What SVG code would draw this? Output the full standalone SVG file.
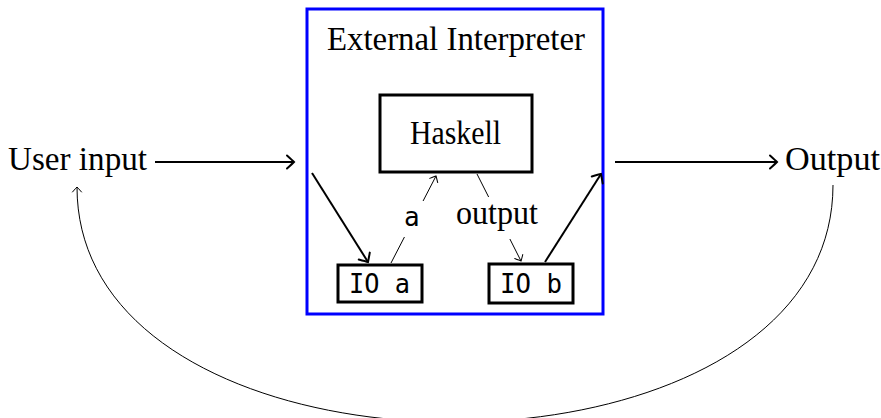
<svg xmlns="http://www.w3.org/2000/svg" width="881" height="418" viewBox="0 0 881 418">
  <style>
    .serif { font-family: "Liberation Serif", "DejaVu Serif", serif; fill: #000; }
    .big { font-size: 33px; }
    .mono { font-family: "DejaVu Sans Mono", "Liberation Mono", monospace; font-size: 26px; fill: #000; }
    .box { fill: #fff; stroke: #000; stroke-width: 3; }
    .frame { fill: none; stroke: #0000ff; stroke-width: 3; }
    .thick { fill: none; stroke: #000; stroke-width: 2; marker-end: url(#head); }
    .thin { fill: none; stroke: #000; stroke-width: 1; marker-end: url(#headthin); }
    .gap { fill: #fff; stroke: none; }
  </style>
  <defs>
    <marker id="head" markerUnits="userSpaceOnUse" orient="auto" refX="0" refY="0" markerWidth="20" markerHeight="20" overflow="visible">
      <path d="M-7,-6.5 Q-1.5,-1.5 0,0 Q-1.5,1.5 -7,6.5" fill="none" stroke="#000" stroke-width="2" stroke-linecap="round"/>
    </marker>
    <marker id="headthin" markerUnits="userSpaceOnUse" orient="auto" refX="0" refY="0" markerWidth="14" markerHeight="14" overflow="visible">
      <path d="M-5,-4.5 Q-1,-1 0,0 Q-1,1 -5,4.5" fill="none" stroke="#000" stroke-width="1" stroke-linecap="round"/>
    </marker>
  </defs>

  <!-- interpreter frame -->
  <g id="interpreter">
    <rect class="frame" x="307" y="9" width="296" height="305"/>
    <text class="serif big" x="327" y="50" textLength="258" lengthAdjust="spacingAndGlyphs">External Interpreter</text>
  </g>

  <!-- connectors -->
  <g id="connectors">
    <path class="thick" d="M155,162 L294,162"/>
    <path class="thick" d="M615,162 L777,162"/>
    <path class="thick" d="M312,173 L368,262"/>
    <path class="thick" d="M545,262 L601,174"/>
    <path class="thin" d="M391,263 L436,176"/>
    <path class="thin" d="M477,174 L521,261"/>
    <path class="thin" d="M833,185 C833,501 77,501 77,187"/>
    <rect class="gap" x="399" y="201" width="26" height="36"/>
    <rect class="gap" x="454" y="197" width="88" height="42"/>
    <text class="mono" x="404" y="226">a</text>
    <text class="serif big" x="456" y="224" textLength="82" lengthAdjust="spacingAndGlyphs">output</text>
  </g>

  <g id="user-input">
    <text class="serif big" x="8" y="170" textLength="139" lengthAdjust="spacingAndGlyphs">User input</text>
  </g>

  <g id="output">
    <text class="serif big" x="785" y="170" textLength="95" lengthAdjust="spacingAndGlyphs">Output</text>
  </g>

  <g id="haskell">
    <rect class="box" x="380" y="95" width="152" height="77"/>
    <text class="serif big" x="410" y="144" textLength="91" lengthAdjust="spacingAndGlyphs">Haskell</text>
  </g>

  <g id="io-a">
    <rect class="box" x="338" y="265" width="84" height="37"/>
    <text class="mono" x="349" y="293" textLength="61" lengthAdjust="spacingAndGlyphs">IO a</text>
  </g>

  <g id="io-b">
    <rect class="box" x="489" y="264" width="84" height="39"/>
    <text class="mono" x="500" y="293" textLength="62" lengthAdjust="spacingAndGlyphs">IO b</text>
  </g>
</svg>
